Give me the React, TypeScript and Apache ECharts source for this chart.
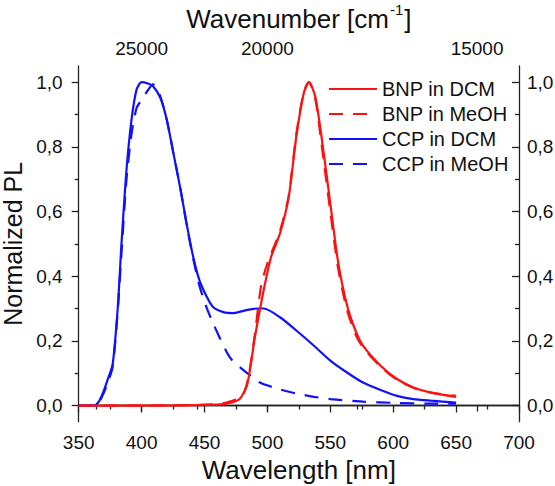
import React, { useEffect, useRef } from "react";
import * as echarts from "echarts";

const FONT = "Liberation Sans, Arial, sans-serif";
const TXT = "#111111";
const AX = "#222222";

// Series names
const seriesNames = ["BNP in DCM", "BNP in MeOH", "CCP in DCM", "CCP in MeOH"];

// CCP in DCM (blue solid)
const ccpDcmX = [350, 362, 366, 370, 373, 377, 381, 384, 388, 392, 396, 400, 405, 409, 415, 420, 425, 431, 436, 441, 446, 452, 457, 465, 473, 484, 492, 497, 510, 523, 537, 550, 563, 576, 590, 603, 616, 630, 650];
const ccpDcmY = [0, 0, 0.012, 0.046, 0.08, 0.128, 0.3, 0.5, 0.729, 0.884, 0.977, 1.0, 0.996, 0.988, 0.951, 0.884, 0.786, 0.667, 0.558, 0.46, 0.387, 0.335, 0.304, 0.289, 0.286, 0.296, 0.3, 0.3, 0.273, 0.232, 0.185, 0.139, 0.103, 0.071, 0.048, 0.03, 0.02, 0.015, 0.009];

// CCP in MeOH (blue dashed)
const ccpMeohX = [350, 362, 366, 370, 373, 377, 381, 384, 388, 392, 396, 400, 405, 409, 412, 415, 420, 425, 431, 436, 441, 446, 452, 457, 467, 472, 484, 494, 510, 523, 537, 550, 576, 603, 630, 650];
const ccpMeohY = [0, 0, 0.01, 0.04, 0.07, 0.12, 0.29, 0.47, 0.7, 0.84, 0.92, 0.945, 0.975, 0.993, 0.98, 0.955, 0.884, 0.786, 0.667, 0.555, 0.455, 0.37, 0.3, 0.253, 0.17, 0.14, 0.1, 0.071, 0.05, 0.037, 0.027, 0.02, 0.012, 0.008, 0.006, 0.006];

// BNP in DCM (red solid)
const bnpDcmX = [350, 400, 460, 470, 478, 484, 490, 497, 503, 510, 517, 523, 529, 533, 538, 543, 550, 556, 563, 570, 576, 590, 603, 616, 630, 650];
const bnpDcmY = [0, 0, 0.003, 0.008, 0.02, 0.066, 0.21, 0.356, 0.46, 0.532, 0.646, 0.832, 0.967, 1.0, 0.956, 0.832, 0.625, 0.449, 0.315, 0.232, 0.185, 0.123, 0.082, 0.056, 0.04, 0.027];

// BNP in MeOH (red dashed)
const bnpMeohX = [350, 400, 460, 470, 480, 485, 490, 495, 500, 510, 517, 523, 529, 533, 538, 543, 550, 556, 563, 570, 576, 590, 603, 616, 630, 650];
const bnpMeohY = [0, 0, 0.004, 0.012, 0.03, 0.09, 0.22, 0.37, 0.44, 0.54, 0.65, 0.84, 0.97, 1.0, 0.95, 0.81, 0.6, 0.43, 0.3, 0.22, 0.18, 0.12, 0.08, 0.055, 0.04, 0.03];

// Axis ticks
const yMajorTicks = [0, 0.2, 0.4, 0.6, 0.8, 1.0];
const yMinorTicks = [0.1, 0.3, 0.5, 0.7, 0.9];
const topMajorWavenumbers = [25000, 20000, 15000];
const topMinorWavenumbers = [27500, 22500, 17500];

const zip = (xs: number[], ys: number[]) => xs.map((x, i) => [x, ys[i]]);
const toNm = (w: number) => 1e7 / w;
const fmtY = (v: number) => v.toFixed(1).replace(".", ",");

export default function App() {
  const ref = useRef<HTMLDivElement>(null);

  useEffect(() => {
    if (!ref.current) return;
    const chart = echarts.init(ref.current, undefined, { renderer: "svg" });

    const labelStyle = { fontFamily: FONT, fontSize: 19, color: TXT };
    const axisLine = { show: true, lineStyle: { color: AX, width: 1.3 } };

    const hiddenY = { min: -0.05, max: 1.05, type: "value" as const, splitLine: { show: false } };

    chart.setOption({
      animation: false,
      backgroundColor: "#ffffff",
      grid: { left: 78.7, right: 36, top: 66, bottom: 64.3, containLabel: false, outerBoundsMode: "none" },
      legend: {
        data: seriesNames,
        orient: "vertical",
        left: 323,
        top: 74,
        itemWidth: 48,
        itemHeight: 14,
        itemGap: 5,
        itemStyle: { opacity: 0 },
        textStyle: { fontFamily: FONT, fontSize: 20, color: TXT, lineHeight: 20 },
      },
      xAxis: [
        {
          type: "value",
          position: "bottom",
          min: 350,
          max: 700,
          interval: 50,
          axisLine,
          axisTick: { show: true, inside: false, length: 7, lineStyle: { color: AX, width: 1.3 } },
          minorTick: { show: true, splitNumber: 2, length: 4, lineStyle: { color: AX, width: 1.3 } },
          axisLabel: { ...labelStyle, margin: 11 },
          splitLine: { show: false },
          name: "Wavelength [nm]",
          nameLocation: "middle",
          nameGap: 35,
          nameTextStyle: { fontFamily: FONT, fontSize: 26, color: TXT },
        },
        {
          type: "value",
          position: "top",
          min: 350,
          max: 700,
          axisLine,
          axisTick: {
            show: true,
            inside: true,
            length: 6,
            customValues: topMajorWavenumbers.map(toNm),
            lineStyle: { color: AX, width: 1.3 },
          },
          axisLabel: {
            ...labelStyle,
            margin: 8,
            customValues: topMajorWavenumbers.map(toNm),
            formatter: (v: number) => String(Math.round(1e7 / v / 100) * 100),
          },
          splitLine: { show: false },
          name: "{a|Wavenumber [cm}{s|-1}{a|]}",
          nameLocation: "middle",
          nameGap: 34,
          nameTextStyle: {
            fontFamily: FONT,
            fontSize: 26,
            color: TXT,
            rich: {
              a: { fontFamily: FONT, fontSize: 26, color: TXT, lineHeight: 30, verticalAlign: "bottom" },
              s: { fontFamily: FONT, fontSize: 15, color: TXT, lineHeight: 30, verticalAlign: "top", padding: [0, 1, 0, 1] },
            },
          },
        },
        {
          type: "value",
          position: "top",
          min: 350,
          max: 700,
          axisLine: { show: false },
          axisTick: {
            show: true,
            inside: true,
            length: 4,
            customValues: topMinorWavenumbers.map(toNm),
            lineStyle: { color: AX, width: 1.3 },
          },
          axisLabel: { show: false },
          splitLine: { show: false },
        },
      ],
      yAxis: [
        {
          ...hiddenY,
          position: "left",
          axisLine,
          axisTick: { show: true, inside: false, length: 7, customValues: yMajorTicks, lineStyle: { color: AX, width: 1.3 } },
          axisLabel: { ...labelStyle, margin: 16, customValues: yMajorTicks, formatter: fmtY },
          name: "Normalized PL",
          nameLocation: "middle",
          nameGap: 52,
          nameTextStyle: { fontFamily: FONT, fontSize: 25, color: TXT },
        },
        {
          ...hiddenY,
          position: "left",
          axisLine: { show: false },
          axisTick: { show: true, inside: false, length: 4, customValues: yMinorTicks, lineStyle: { color: AX, width: 1.3 } },
          axisLabel: { show: false },
        },
        {
          ...hiddenY,
          position: "right",
          axisLine,
          axisTick: { show: true, inside: true, length: 7, customValues: yMajorTicks, lineStyle: { color: AX, width: 1.3 } },
          axisLabel: { ...labelStyle, margin: 8, customValues: yMajorTicks, formatter: fmtY },
        },
        {
          ...hiddenY,
          position: "right",
          axisLine: { show: false },
          axisTick: { show: true, inside: true, length: 4, customValues: yMinorTicks, lineStyle: { color: AX, width: 1.3 } },
          axisLabel: { show: false },
        },
      ],
      series: [
        {
          name: "CCP in MeOH",
          type: "line",
          data: zip(ccpMeohX, ccpMeohY),
          symbol: "none",
          smooth: 0.25,
          lineStyle: { color: "#1010ff", width: 2.2, type: [14, 10] },
          itemStyle: { color: "#1010ff" },
          z: 2,
        },
        {
          name: "CCP in DCM",
          type: "line",
          data: zip(ccpDcmX, ccpDcmY),
          symbol: "none",
          smooth: 0.25,
          lineStyle: { color: "#1010ff", width: 2.2, type: "solid" },
          itemStyle: { color: "#1010ff" },
          z: 3,
        },
        {
          name: "BNP in MeOH",
          type: "line",
          data: zip(bnpMeohX, bnpMeohY),
          symbol: "none",
          smooth: 0.25,
          lineStyle: { color: "#ff1010", width: 2.2, type: [14, 10] },
          itemStyle: { color: "#ff1010" },
          z: 4,
        },
        {
          name: "BNP in DCM",
          type: "line",
          data: zip(bnpDcmX, bnpDcmY),
          symbol: "none",
          smooth: 0.25,
          lineStyle: { color: "#ff1010", width: 2.2, type: "solid" },
          itemStyle: { color: "#ff1010" },
          z: 5,
        },
      ],
    });

    return () => chart.dispose();
  }, []);

  return (
    <div
      ref={ref}
      style={{ position: "fixed", left: 0, top: 0, width: 555, height: 486, background: "#fff" }}
    />
  );
}
